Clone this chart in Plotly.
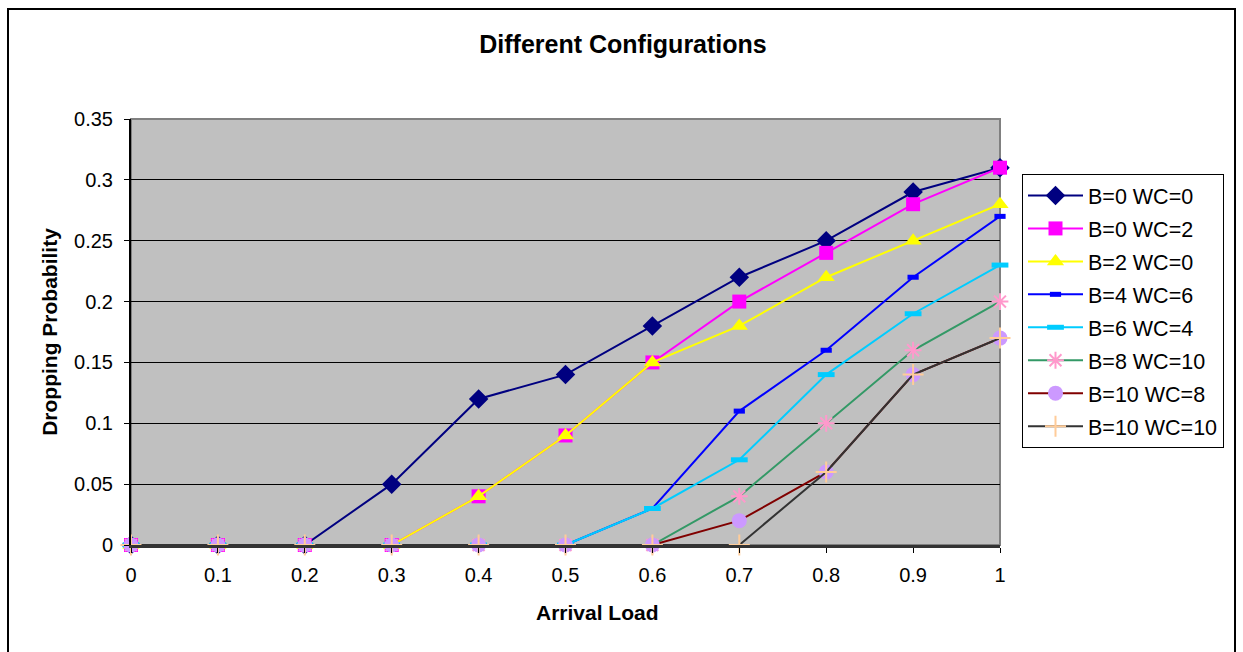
import plotly.graph_objects as go

arrival_load = [0, 0.1, 0.2, 0.3, 0.4, 0.5, 0.6, 0.7, 0.8, 0.9, 1]

b0_wc0 = [0, 0, 0, 0.05, 0.12, 0.14, 0.18, 0.22, 0.25, 0.29, 0.31]
b0_wc2 = [0, 0, 0, 0, 0.04, 0.09, 0.15, 0.20, 0.24, 0.28, 0.31]
b2_wc0 = [0, 0, 0, 0, 0.04, 0.09, 0.15, 0.18, 0.22, 0.25, 0.28]
b4_wc6 = [0, 0, 0, 0, 0, 0, 0.03, 0.11, 0.16, 0.22, 0.27]
b6_wc4 = [0, 0, 0, 0, 0, 0, 0.03, 0.07, 0.14, 0.19, 0.23]
b8_wc10 = [0, 0, 0, 0, 0, 0, 0, 0.04, 0.10, 0.16, 0.20]
b10_wc8 = [0, 0, 0, 0, 0, 0, 0, 0.02, 0.06, 0.14, 0.17]
b10_wc10 = [0, 0, 0, 0, 0, 0, 0, 0, 0.06, 0.14, 0.17]

series_names = ["B=0 WC=0", "B=0 WC=2", "B=2 WC=0", "B=4 WC=6",
                "B=6 WC=4", "B=8 WC=10", "B=10 WC=8", "B=10 WC=10"]
series_values = [b0_wc0, b0_wc2, b2_wc0, b4_wc6, b6_wc4, b8_wc10, b10_wc8, b10_wc10]

y_tickvals = [0, 0.05, 0.1, 0.15, 0.2, 0.25, 0.3, 0.35]
y_ticktext = ["0", "0.05", "0.1", "0.15", "0.2", "0.25", "0.3", "0.35"]
x_ticktext = ["0", "0.1", "0.2", "0.3", "0.4", "0.5", "0.6", "0.7", "0.8", "0.9", "1"]

styles = [
    dict(line=dict(color="#000080", width=2),
         marker=dict(symbol="diamond", size=15, color="#000080")),
    dict(line=dict(color="#FF00FF", width=2),
         marker=dict(symbol="square", size=14, color="#FF00FF")),
    dict(line=dict(color="#FFFF00", width=2),
         marker=dict(symbol="triangle-up", size=15, color="#FFFF00")),
    dict(line=dict(color="#0000FF", width=2),
         marker=dict(symbol="line-ew-open", size=8, color="#0000FF",
                     line=dict(color="#0000FF", width=5))),
    dict(line=dict(color="#00CCFF", width=2),
         marker=dict(symbol="line-ew-open", size=12, color="#00CCFF",
                     line=dict(color="#00CCFF", width=5))),
    dict(line=dict(color="#339966", width=2),
         marker=dict(symbol="asterisk-open", size=14, color="#FF99CC",
                     line=dict(color="#FF99CC", width=2))),
    dict(line=dict(color="#800000", width=2),
         marker=dict(symbol="circle", size=15, color="#CC99FF")),
    dict(line=dict(color="#333333", width=2),
         marker=dict(symbol="cross-thin-open", size=15, color="#FFCC99",
                     line=dict(color="#FFCC99", width=2))),
]

fig = go.Figure()
for i, (name, vals) in enumerate(zip(series_names, series_values)):
    fig.add_trace(go.Scatter(x=arrival_load, y=vals, name=name,
                             mode="lines+markers", legendgroup=f"g{i}",
                             cliponaxis=False, **styles[i]))

FONT = "Liberation Sans, Arial, sans-serif"

fig.update_layout(
    width=1243, height=652,
    margin=dict(l=131, r=243, t=119, b=107),
    paper_bgcolor="white",
    plot_bgcolor="#C0C0C0",
    font=dict(family=FONT, size=20, color="black"),
    title=dict(text="<b>Different Configurations</b>", x=623 / 1243,
               xref="container", xanchor="center", y=1 - 44 / 652,
               yanchor="middle", font=dict(size=25, family=FONT)),
    showlegend=True,
    legend=dict(x=(1022 - 131) / 869, xanchor="left",
                y=(545 - 174) / 426, yanchor="top",
                bordercolor="black", borderwidth=1, bgcolor="white",
                font=dict(size=21.5, family=FONT),
                tracegroupgap=2, itemwidth=55),
    xaxis=dict(range=[0, 1], tickvals=arrival_load, ticktext=x_ticktext,
               showgrid=False, zeroline=False,
               showline=True, linecolor="#333333", linewidth=3,
               ticks="outside", ticklen=5, tickcolor="black",
               ticklabelstandoff=5),
    yaxis=dict(range=[0, 0.35], tickvals=y_tickvals, ticktext=y_ticktext,
               showgrid=True, gridcolor="black", gridwidth=1,
               zeroline=False,
               showline=True, linecolor="black", linewidth=2,
               ticks="outside", ticklen=5, tickcolor="black",
               ticklabelstandoff=7,
               title=dict(text="<b>Dropping Probability</b>", font=dict(size=21),
                          standoff=11)),
    annotations=[
        dict(text="<b>Arrival Load</b>", xref="paper", yref="paper",
             x=(597 - 131) / 869, y=(545 - 612) / 426,
             xanchor="center", yanchor="middle", showarrow=False,
             font=dict(size=21, family=FONT)),
    ],
    shapes=[
        dict(type="rect", xref="paper", yref="paper",
             x0=(8 - 131) / 869, x1=(1235 - 131) / 869,
             y0=-0.4, y1=(545 - 9) / 426,
             line=dict(color="black", width=2), fillcolor="rgba(0,0,0,0)",
             layer="below"),
        dict(type="rect", xref="paper", yref="paper",
             x0=0, x1=1, y0=0, y1=1,
             line=dict(color="#808080", width=2), fillcolor="rgba(0,0,0,0)",
             layer="below"),
    ],
)

fig.write_html("out.html")
